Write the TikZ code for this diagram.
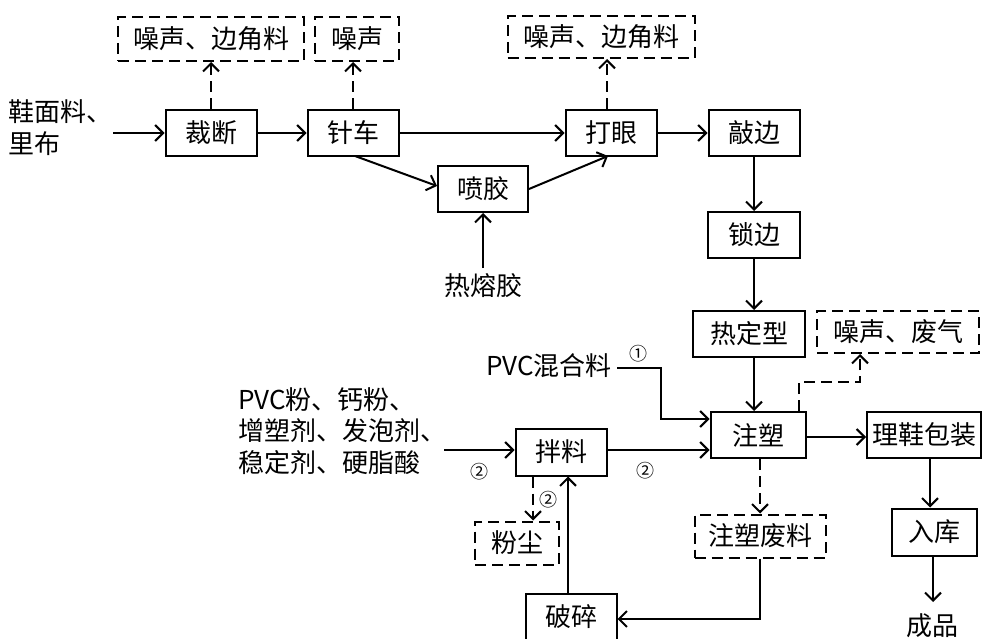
\documentclass[tikz,border=0pt]{standalone}
\usepackage{fontspec}
\setmainfont{Liberation Sans}
\newfontfamily\cjk{Noto Sans CJK SC}
\usetikzlibrary{arrows.meta}
\begin{document}
\begin{tikzpicture}[x=1pt,y=-1pt,
  every node/.style={font=\cjk\fontsize{26}{32}\selectfont, inner sep=0pt},
  box/.style={draw, line width=2pt, minimum width=#1, minimum height=46pt},
  box/.default=91pt,
  dbox/.style={draw, line width=2pt, dash pattern=on 11pt off 6pt, minimum width=#1, minimum height=44pt},
  arr/.style={line width=2pt, -{Straight Barb[length=8pt,width=16pt,line width=2pt]}},
  darr/.style={arr, dash pattern=on 11pt off 6pt},
  circ/.style={font=\cjk\fontsize{18}{18}\selectfont}
]
\useasboundingbox (0,0) rectangle (1003,639);
% process boxes
\node[box] (cd) at (211,133) {裁断};
\node[box] (zc) at (353,133) {针车};
\node[box] (dy) at (611,133) {打眼};
\node[box] (qb) at (754,133) {敲边};
\node[box=90pt] (pj) at (483,189) {喷胶};
\node[box=92pt] (sb) at (754,235) {锁边};
\node[box=112pt] (rdx) at (749,334) {热定型};
\node[box=95pt] (zs) at (758,435) {注塑};
\node[box=114pt] (lx) at (924,435) {理鞋包装};
\node[box=85pt, minimum height=47pt] (rk) at (934,532) {入库};
\node[box=91pt, minimum height=47pt] (bl) at (561,452) {拌料};
\node[box=91pt] (ps) at (571,617) {破碎};
% dashed output boxes
\node[dbox=186pt] (o1) at (211,39) {噪声、边角料};
\node[dbox=84pt] (o2) at (357,39) {噪声};
\node[dbox=187pt, minimum height=42pt] (o3) at (601,37) {噪声、边角料};
\node[dbox=162pt, minimum height=42pt] (o4) at (898,332) {噪声、废气};
\node[dbox=131pt, minimum height=43pt] (o5) at (760,536) {注塑废料};
\node[dbox=84pt, minimum height=43pt] (o6) at (517,543) {粉尘};
% texts
\node[align=left, anchor=west] (in1) at (8,128) {鞋面料、\\里布};
\node (in2) at (483,286) {热熔胶};
\node[anchor=east] (in3) at (612,366) {PVC\cjk 混合料};
\node[align=left, anchor=west, font=\cjk\fontsize{26}{31.5}\selectfont] (in4) at (238,431) {PVC\cjk 粉、钙粉、\\增塑剂、发泡剂、\\稳定剂、硬脂酸};
\node (out) at (932,626) {成品};
\node[circ] (c1) at (638,354) {①};
\node[circ] (c2) at (479,472) {②};
\node[circ] (c3) at (645,471) {②};
\node[circ] (c4) at (548,500) {②};
% coordinates
\coordinate (a0) at (113,133);
\coordinate (h0) at (483,268);
\coordinate (p0) at (617,368);
\coordinate (p1) at (661,368);
\coordinate (q0) at (444,450);
\coordinate (e0) at (933,602);
% main flow
\draw[arr] (a0) -- (cd.west);
\draw[arr] (cd.east) -- (zc.west);
\draw[arr] (zc.east) -- (dy.west);
\draw[arr] (dy.east) -- (qb.west);
\draw[arr] (355,156) -- (pj.west |- 0,186);
\draw[arr] (pj.east) -- (608,156);
\draw[arr] (h0) -- (pj.south);
\draw[arr] (qb.south) -- (sb.north);
\draw[arr] (sb.south) -- (rdx.north -| sb.south);
\draw[arr] (rdx.south -| sb.south) -- (zs.north -| sb.south);
\draw[arr] (p0) -- (p1) |- (zs.west |- 0,419);
\draw[arr] (q0) -- (bl.west |- q0);
\draw[arr] (bl.east |- q0) -- (zs.west |- q0);
\draw[arr] (zs.east |- 0,437) -- (lx.west |- 0,437);
\draw[arr] (lx.south -| 930,0) -- (rk.north -| 930,0);
\draw[arr] (rk.south -| e0) -- (e0);
\draw[arr] (o5.south) -- (760,619) -- (ps.east |- 0,619);
\draw[arr] (ps.north -| 568,0) -- (bl.south -| 568,0);
% dashed emissions
\draw[darr] (cd.north) -- (o1.south);
\draw[darr] (zc.north) -- (o2.south -| zc.north);
\draw[darr] (dy.north -| 607,0) -- (o3.south -| 607,0);
\draw[darr] (zs.north -| 799,0) -- (799,382) -- (860,382) -- (o4.south -| 860,0);
\draw[darr] (zs.south -| o5.north) -- (o5.north);
\draw[darr] (bl.south -| 533,0) -- (o6.north -| 533,0);
\end{tikzpicture}
\end{document}
